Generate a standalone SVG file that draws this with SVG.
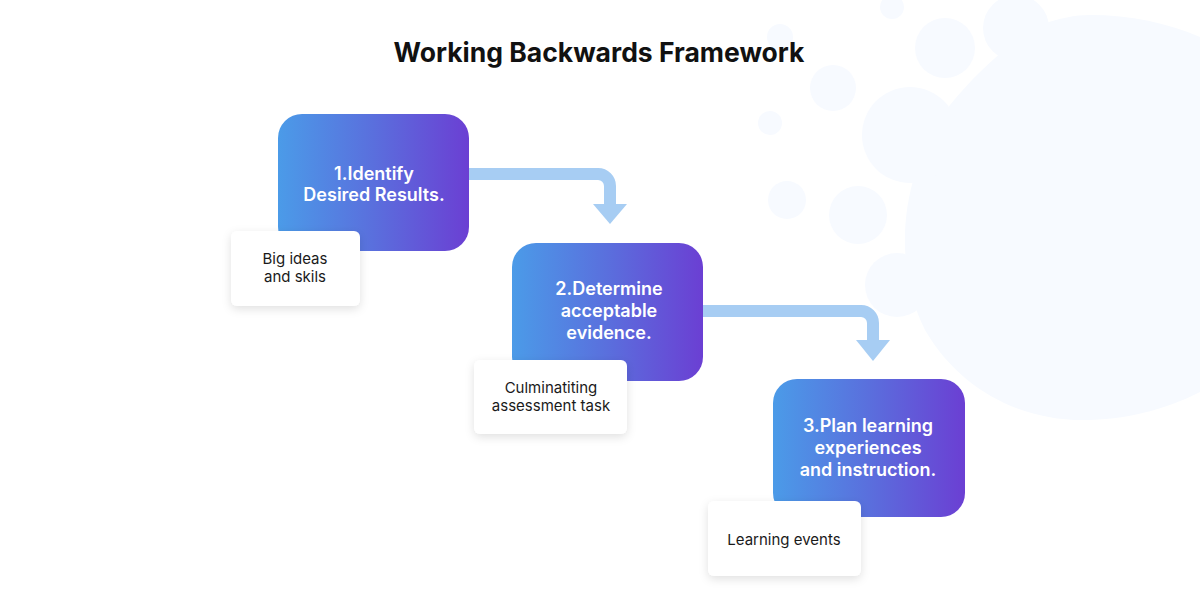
<svg xmlns="http://www.w3.org/2000/svg" width="1200" height="600" viewBox="0 0 1200 600">
  <defs>
    <linearGradient id="grad" x1="0" y1="0" x2="1" y2="0">
      <stop offset="0" stop-color="#4b9be8"/>
      <stop offset="0.5" stop-color="#5a6fdd"/>
      <stop offset="1" stop-color="#6b3fd3"/>
    </linearGradient>
    <filter id="shadow" x="-20%" y="-20%" width="140%" height="150%">
      <feDropShadow dx="0" dy="3" stdDeviation="5" flood-color="#000" flood-opacity="0.12"/>
    </filter>
    <style>
      .title { font-family: Inter, "Liberation Sans", sans-serif; font-weight: 700; font-size: 26.5px; fill: #111; }
      .step { fill: url(#grad); }
      .steptext { font-family: Inter, "Liberation Sans", sans-serif; font-weight: 600; font-size: 18px; fill: #ffffff; text-anchor: middle; }
      .card { fill: #ffffff; filter: url(#shadow); }
      .cardtext { font-family: Inter, "Liberation Sans", sans-serif; font-weight: 400; font-size: 15px; fill: #1a1a1a; text-anchor: middle; }
      .conn { fill: none; stroke: #a7cdf3; stroke-width: 12; }
      .head { fill: #a7cdf3; }
      .bg { fill: #f7faff; }
    </style>
  </defs>
  <rect width="1200" height="600" fill="#ffffff"/>

  <g id="background">
    <path class="bg" d="M 1090 15 C 1230 15 1330 110 1320 220 C 1310 340 1200 420 1083 420 C 1020 420 960 390 925 330 C 895 270 895 180 950 105 C 975 75 1000 50 1040 25 C 1060 18 1075 15 1090 15 Z"/>
    <circle class="bg" cx="1016" cy="28" r="33"/>
    <circle class="bg" cx="910" cy="135" r="48"/>
    <circle class="bg" cx="897" cy="285" r="32"/>
    <circle class="bg" cx="892" cy="7" r="12"/>
    <circle class="bg" cx="945" cy="48" r="30"/>
    <circle class="bg" cx="833" cy="88" r="23"/>
    <circle class="bg" cx="780" cy="37" r="13"/>
    <circle class="bg" cx="770" cy="123" r="12"/>
    <circle class="bg" cx="787" cy="200" r="19"/>
    <circle class="bg" cx="858" cy="215" r="29"/>
  </g>

  <text class="title" x="599" y="62" text-anchor="middle">Working Backwards Framework</text>

  <g id="connectors">
    <path class="conn" d="M 469 174 H 598 A 12 12 0 0 1 610 186 V 206"/>
    <polygon class="head" points="593,204 627,204 610,224"/>
    <path class="conn" d="M 703 311 H 861 A 12 12 0 0 1 873 323 V 342"/>
    <polygon class="head" points="856,340 890,340 873,361"/>
  </g>

  <g id="step1">
    <rect class="step" x="278" y="114" width="191" height="137" rx="24"/>
    <text class="steptext" x="374" y="180">1.Identify</text>
    <text class="steptext" x="374" y="201">Desired Results.</text>
  </g>
  <g id="card1">
    <rect class="card" x="231" y="231" width="129" height="75" rx="6"/>
    <text class="cardtext" x="295" y="264">Big ideas</text>
    <text class="cardtext" x="295" y="282">and skils</text>
  </g>

  <g id="step2">
    <rect class="step" x="512" y="243" width="191" height="138" rx="24"/>
    <text class="steptext" x="609" y="295">2.Determine</text>
    <text class="steptext" x="609" y="317">acceptable</text>
    <text class="steptext" x="609" y="339">evidence.</text>
  </g>
  <g id="card2">
    <rect class="card" x="474" y="360" width="153" height="74" rx="6"/>
    <text class="cardtext" x="551" y="393">Culminatiting</text>
    <text class="cardtext" x="551" y="411">assessment task</text>
  </g>

  <g id="step3">
    <rect class="step" x="773" y="379" width="192" height="138" rx="24"/>
    <text class="steptext" x="868" y="432">3.Plan learning</text>
    <text class="steptext" x="868" y="454">experiences</text>
    <text class="steptext" x="868" y="476">and instruction.</text>
  </g>
  <g id="card3">
    <rect class="card" x="708" y="501" width="153" height="75" rx="6"/>
    <text class="cardtext" x="784" y="545">Learning events</text>
  </g>
</svg>
